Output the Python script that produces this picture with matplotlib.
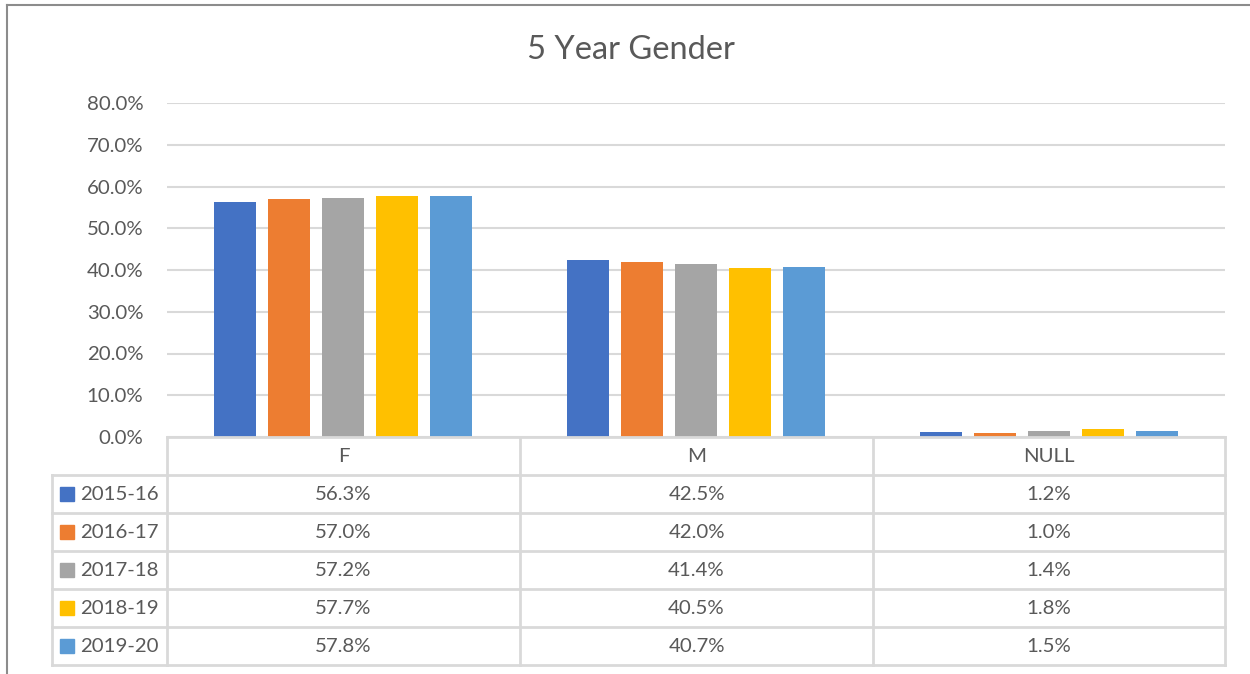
import numpy as np
import matplotlib
matplotlib.use('Agg')
import matplotlib.pyplot as plt
from matplotlib.lines import Line2D

categories = ['F', 'M', 'NULL']
years = ['2015-16', '2016-17', '2017-18', '2018-19', '2019-20']
values = [
    [56.3, 42.5, 1.2],
    [57.0, 42.0, 1.0],
    [57.2, 41.4, 1.4],
    [57.7, 40.5, 1.8],
    [57.8, 40.7, 1.5],
]
colors = ['#4472C4', '#ED7D31', '#A5A5A5', '#FFC000', '#5B9BD5']
yticks = [0, 10, 20, 30, 40, 50, 60, 70, 80]

plt.rcParams['font.family'] = ['Lato', 'DejaVu Sans']
text_color = '#595959'
grid_color = '#d9d9d9'
fs = 14.7

W, H = 1250, 674
fig = plt.figure(figsize=(W / 100, H / 100), dpi=100)


def fx(px):
    return px / W


def fy(py):
    return 1 - py / H


# chart area border (top and left visible)
fig.add_artist(Line2D([fx(7), fx(1250)], [fy(5), fy(5)], color='#8c8c8c', lw=1.5))
fig.add_artist(Line2D([fx(7), fx(7)], [fy(5), fy(674)], color='#8c8c8c', lw=1.5))

fig.text(fx(631), fy(50), '5 Year Gender', ha='center', va='center',
         fontsize=23.5, color=text_color)

ax = fig.add_axes([fx(167), fy(437), fx(1225) - fx(167), fy(103) - fy(437)])
n = len(years)
bw = 42 / 353
step = 54 / 353
x = np.arange(len(categories)) + 0.5
for i, yr in enumerate(years):
    ax.bar(x + (i - (n - 1) / 2) * step, values[i], width=bw, color=colors[i], zorder=3)
ax.set_xlim(0, len(categories))
ax.set_ylim(0, 80)
ax.set_yticks(yticks)
ax.set_yticklabels(['%.1f%%' % t for t in yticks])
ax.tick_params(axis='y', length=0, pad=17, labelsize=fs, labelcolor=text_color)
ax.set_xticks([])
ax.grid(axis='y', color=grid_color, lw=1.5, zorder=0)
for s in ax.spines.values():
    s.set_visible(False)

# data table under the chart
tx = fig.add_axes([0, 0, 1, 1], facecolor='none')
tx.set_xlim(0, W)
tx.set_ylim(H, 0)
tx.axis('off')
col_edges = [167, 520, 873, 1225]
row_top = 437
row_h = 38
n_rows = n + 1
bottom = row_top + row_h * n_rows
lc = dict(color=grid_color, lw=2)
tx.plot([167, 1225], [row_top, row_top], **lc)
for r in range(1, n_rows + 1):
    y = row_top + r * row_h
    tx.plot([52, 1225], [y, y], **lc)
tx.plot([52, 52], [row_top + row_h, bottom], **lc)
for c in col_edges:
    tx.plot([c, c], [row_top, bottom], **lc)

for j, cat in enumerate(categories):
    cx = (col_edges[j] + col_edges[j + 1]) / 2
    tx.text(cx, row_top + row_h / 2 + 1, cat, ha='center', va='center',
            fontsize=fs, color=text_color)
    for i in range(n):
        tx.text(cx, row_top + (i + 1.5) * row_h + 1, '%.1f%%' % values[i][j],
                ha='center', va='center', fontsize=fs, color=text_color)

for i, yr in enumerate(years):
    cy = row_top + (i + 1.5) * row_h
    tx.add_patch(plt.Rectangle((60, cy - 7), 14, 14, color=colors[i]))
    tx.text(80, cy + 1, yr, ha='left', va='center', fontsize=fs, color=text_color)

fig.savefig('out.png', dpi=100)
